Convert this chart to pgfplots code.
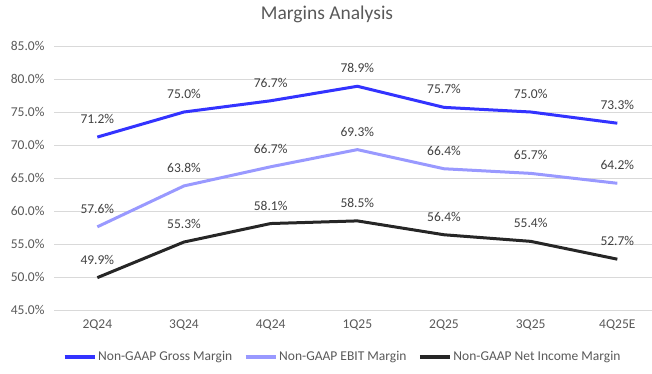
\documentclass[border=0pt]{standalone}
\usepackage{pgfplots}
\pgfplotsset{compat=1.18}
\usepackage{fontspec}
\setmainfont{Carlito}
\definecolor{cgross}{HTML}{3333FF}
\definecolor{cebit}{HTML}{9999FF}
\definecolor{cnet}{HTML}{262626}
\definecolor{cgrid}{HTML}{D9D9D9}
\definecolor{ctext}{HTML}{595959}
\definecolor{clabel}{HTML}{404040}
\begin{document}
\begin{tikzpicture}[x=1pt,y=1pt]
\path[use as bounding box] (0,0) rectangle (652,374);
\node[font=\fontsize{19.5}{23}\selectfont, text=ctext] at (327,360) {Margins Analysis};
\begin{axis}[
  at={(54pt,64pt)}, anchor=south west,
  scale only axis, width=598pt, height=264pt,
  xmin=-0.5, xmax=6.4, ymin=45, ymax=85,
  xtick={0,...,6},
  xticklabels={2Q24,3Q24,4Q24,1Q25,2Q25,3Q25,4Q25E},
  ytick={45,50,...,85},
  yticklabel={\pgfmathprintnumber[fixed,fixed zerofill,precision=1]{\tick}\%},
  /pgf/number format/assume math mode=true,
  axis line style={draw=none},
  major tick length=0pt,
  ymajorgrids, grid style={draw=cgrid, line width=0.75pt},
  tick label style={font=\fontsize{13.5}{16}\selectfont, text=ctext},
  yticklabel style={xshift=-6pt},
  xticklabel style={yshift=-6pt},
  clip=false,
  nodes near coords={\pgfmathprintnumber[fixed,fixed zerofill,precision=1]{\pgfplotspointmeta}\%},
  every node near coord/.append style={anchor=center, yshift=18pt, font=\fontsize{13.5}{16}\selectfont, text=clabel},
  legend style={at={(axis description cs:0.483,0)}, yshift=-47pt, anchor=center, draw=none, fill=none,
    font=\fontsize{13.5}{16}\selectfont, text=ctext, legend columns=3,
    /tikz/every even column/.append style={column sep=10pt}},
  legend image code/.code={\draw[#1, line width=3pt] (0pt,0pt) -- (30pt,0pt);},
]
\addplot[cgross, line width=3pt, mark=none] coordinates {(0,71.2) (1,75.0) (2,76.7) (3,78.9) (4,75.7) (5,75.0) (6,73.3)};
\addlegendentry{Non-GAAP Gross Margin}
\addplot[cebit, line width=3pt, mark=none] coordinates {(0,57.6) (1,63.8) (2,66.7) (3,69.3) (4,66.4) (5,65.7) (6,64.2)};
\addlegendentry{Non-GAAP EBIT Margin}
\addplot[cnet, line width=3pt, mark=none] coordinates {(0,49.9) (1,55.3) (2,58.1) (3,58.5) (4,56.4) (5,55.4) (6,52.7)};
\addlegendentry{Non-GAAP Net Income Margin}
\end{axis}
\end{tikzpicture}
\end{document}
